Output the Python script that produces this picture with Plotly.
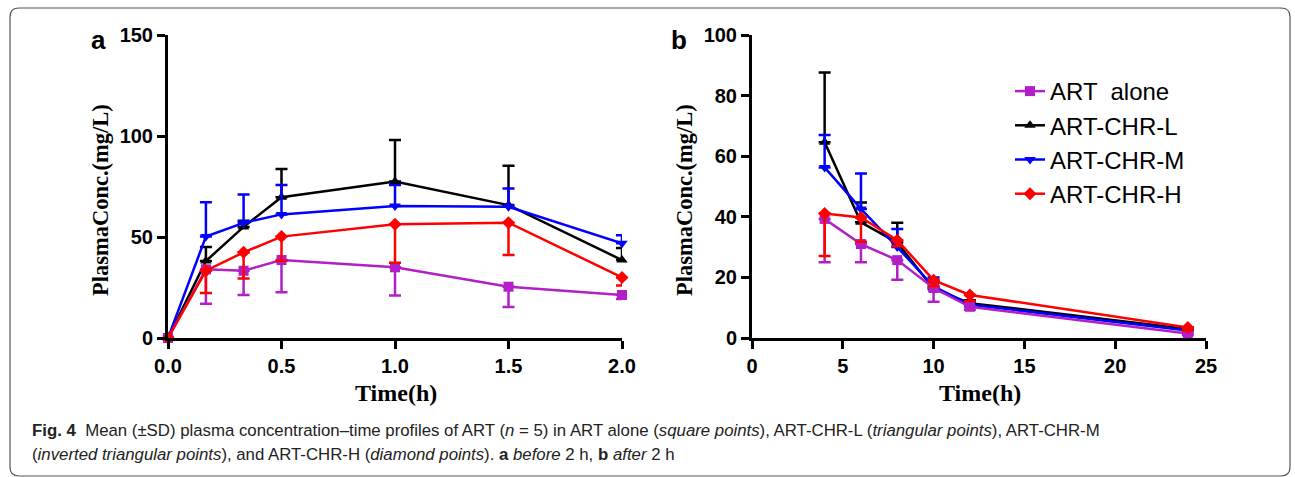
import plotly.graph_objects as go

# ---------------- data ----------------
time_a = [0, 0.167, 0.333, 0.5, 1.0, 1.5, 2.0]
alone_a = [0, 34.0, 33.3, 38.6, 35.0, 25.4, 21.3]
alone_a_sd = [0, 17, 12, 16, 14, 10, 2]
chr_l_a = [0, 38.1, 55.0, 69.7, 77.5, 65.8, 38.6]
chr_l_a_sd = [0, 7, 3, 14, 20.5, 19.5, 6]
chr_m_a = [0, 50.2, 57.0, 61.2, 65.3, 65.0, 46.9]
chr_m_a_sd = [0, 17, 14, 14.5, 10.5, 9, 4]
chr_h_a = [0, 33.3, 42.4, 50.2, 56.3, 57.1, 30.0]
chr_h_a_sd = [0, 11, 13, 12, 19, 16, 4]

time_b = [4, 6, 8, 10, 12, 24]
alone_b = [39.3, 31.0, 25.7, 16.5, 10.3, 1.5]
alone_b_sd = [14.3, 6, 6.5, 4.5, 1, 0.5]
chr_l_b = [64.6, 38.2, 31.5, 16.2, 11.5, 3.0]
chr_l_b_sd = [23, 6.5, 6.5, 2, 1, 0.5]
chr_m_b = [56.3, 42.6, 30.0, 17.0, 11.0, 2.5]
chr_m_b_sd = [10.7, 11.7, 6, 3, 1, 0.5]
chr_h_b = [41.1, 39.8, 32.3, 19.1, 14.2, 3.5]
chr_h_b_sd = [14, 8, 2, 2, 2, 1]

names = ["ART  alone", "ART-CHR-L", "ART-CHR-M", "ART-CHR-H"]
ticks_a_x = [0.0, 0.5, 1.0, 1.5, 2.0]
ticks_a_y = [0, 50, 100, 150]
ticks_b_x = [0, 5, 10, 15, 20, 25]
ticks_b_y = [0, 20, 40, 60, 80, 100]

# ---------------- styles ----------------
styles = {
    "ART  alone": dict(color="#b21fc6", symbol="square", dir="down", rank=1),
    "ART-CHR-L": dict(color="#000000", symbol="triangle-up", dir="up", rank=2),
    "ART-CHR-M": dict(color="#0000ff", symbol="triangle-down", dir="up", rank=3),
    "ART-CHR-H": dict(color="#ff0000", symbol="diamond", dir="down", rank=4),
}

series_a = {
    "ART-CHR-L": (chr_l_a, chr_l_a_sd),
    "ART-CHR-M": (chr_m_a, chr_m_a_sd),
    "ART  alone": (alone_a, alone_a_sd),
    "ART-CHR-H": (chr_h_a, chr_h_a_sd),
}
series_b = {
    "ART-CHR-L": (chr_l_b, chr_l_b_sd),
    "ART-CHR-M": (chr_m_b, chr_m_b_sd),
    "ART  alone": (alone_b, alone_b_sd),
    "ART-CHR-H": (chr_h_b, chr_h_b_sd),
}

fig = go.Figure()


def add_series(x, series, xa, ya, legend):
    for name, (vals, sd) in series.items():
        st = styles[name]
        zeros = [0] * len(sd)
        if st["dir"] == "up":
            err = dict(type="data", symmetric=False, array=sd, arrayminus=zeros)
        else:
            err = dict(type="data", symmetric=False, array=zeros, arrayminus=sd)
        err.update(color=st["color"], thickness=2.5, width=6)
        fig.add_trace(go.Scatter(
            x=x, y=vals, name=name, mode="lines+markers",
            line=dict(color=st["color"], width=2.5),
            marker=dict(symbol=st["symbol"], size=10, color=st["color"]),
            error_y=err, xaxis=xa, yaxis=ya, cliponaxis=False,
            showlegend=legend, legendrank=st["rank"],
        ))


add_series(time_a, series_a, "x", "y", False)
add_series(time_b, series_b, "x2", "y2", True)

W, H = 1295, 477
y_dom = [1 - 338 / H, 1 - 35 / H]
tickfont = dict(family="Liberation Sans, Arial", size=20, color="black", weight="bold")
axis_common = dict(showline=True, linecolor="black", linewidth=3, ticks="outside",
                   ticklen=8, tickwidth=3, tickcolor="black", showgrid=False,
                   zeroline=False, tickfont=tickfont, automargin=False)

fig.update_layout(
    width=W, height=H, autosize=False,
    margin=dict(l=0, r=0, t=0, b=0, pad=0, autoexpand=False),
    paper_bgcolor="white", plot_bgcolor="white",
    xaxis=dict(domain=[168 / W, 622 / W], range=[0, 2], tickvals=ticks_a_x,
               ticktext=[f"{v:.1f}" for v in ticks_a_x], anchor="y", **axis_common),
    yaxis=dict(domain=y_dom, range=[0, 150], tickvals=ticks_a_y, anchor="x", **axis_common),
    xaxis2=dict(domain=[752 / W, 1206 / W], range=[0, 25], tickvals=ticks_b_x, anchor="y2", **axis_common),
    yaxis2=dict(domain=y_dom, range=[0, 100], tickvals=ticks_b_y, anchor="x2", **axis_common),
    legend=dict(x=1010 / W, y=1 - 69 / H, xanchor="left", yanchor="top",
                font=dict(family="Liberation Sans, Arial", size=24, color="black"),
                bgcolor="rgba(0,0,0,0)", itemwidth=30, tracegroupgap=0),
    showlegend=True,
)

title_font = dict(family="Liberation Serif, Times New Roman", size=22.5, color="black")
ann = []
# panel labels
for lbl, px in (("a", 98), ("b", 679)):
    ann.append(dict(text=f"<b>{lbl}</b>", x=px / W, y=1 - 40 / H, xref="paper", yref="paper",
                    xanchor="center", yanchor="middle", showarrow=False,
                    font=dict(family="Liberation Sans, Arial", size=26, color="black")))
# y titles
for px in (100, 684):
    ann.append(dict(text="<b>PlasmaConc.(mg/L)</b>", x=px / W, y=1 - 200 / H, xref="paper", yref="paper",
                    xanchor="center", yanchor="middle", showarrow=False, textangle=-90, font=title_font))
# x titles
for px in (396, 980):
    ann.append(dict(text="<b>Time(h)</b>", x=px / W, y=1 - 393 / H, xref="paper", yref="paper",
                    xanchor="center", yanchor="middle", showarrow=False,
                    font=dict(family="Liberation Serif, Times New Roman", size=24, color="black")))
# caption
cap_font = dict(family="Liberation Sans, Arial", size=16.8, color="#222222")
ann.append(dict(text="<b>Fig. 4</b>  Mean (±SD) plasma concentration–time profiles of ART (<i>n</i> = 5) in ART alone (<i>square points</i>), ART-CHR-L (<i>triangular points</i>), ART-CHR-M",
                x=30 / W, y=1 - 430 / H, xref="paper", yref="paper", xanchor="left", yanchor="middle",
                showarrow=False, font=cap_font))
ann.append(dict(text="(<i>inverted triangular points</i>), and ART-CHR-H (<i>diamond points</i>). <b>a</b> <i>before</i> 2 h, <b>b</b> <i>after</i> 2 h",
                x=30 / W, y=1 - 454 / H, xref="paper", yref="paper", xanchor="left", yanchor="middle",
                showarrow=False, font=cap_font))
fig.update_layout(annotations=ann)

# rounded border
x0, x1, y0, y1 = 10 / W, 1290 / W, 1 - 476 / H, 1 - 8 / H
rx, ry = 9 / W, 9 / H
path = (f"M {x0+rx},{y1} L {x1-rx},{y1} Q {x1},{y1} {x1},{y1-ry} L {x1},{y0+ry} "
        f"Q {x1},{y0} {x1-rx},{y0} L {x0+rx},{y0} Q {x0},{y0} {x0},{y0+ry} "
        f"L {x0},{y1-ry} Q {x0},{y1} {x0+rx},{y1} Z")
fig.add_shape(type="path", path=path, xref="paper", yref="paper",
              line=dict(color="#555555", width=1.2), layer="below")

fig.write_html("out.html")
